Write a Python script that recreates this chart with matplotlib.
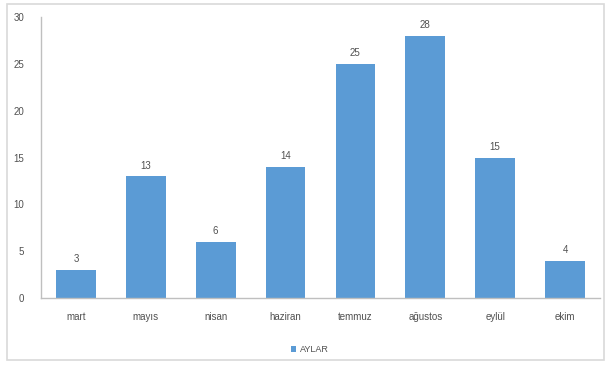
import matplotlib.pyplot as plt
from matplotlib.patches import Rectangle

months = ["mart", "mayıs", "nisan", "haziran", "temmuz", "ağustos", "eylül", "ekim"]
counts = [3, 13, 6, 14, 25, 28, 15, 4]
series_name = "AYLAR"
y_ticks = [0, 5, 10, 15, 20, 25, 30]

bar_color = "#5B9BD5"
text_color = "#505050"
axis_color = "#BFBFBF"

plt.rcParams["font.family"] = ["Liberation Sans", "DejaVu Sans"]

fig = plt.figure(figsize=(6.06, 3.67), dpi=100)
ax = fig.add_axes([41 / 606, 1 - 298 / 367, (600 - 41) / 606, (298 - 17) / 367])

x = range(len(months))
bars = ax.bar(x, counts, width=0.57, color=bar_color, label=series_name, zorder=2)
for rect, v in zip(bars, counts):
    ax.text(rect.get_x() + rect.get_width() / 2, v + 0.6, str(v),
            ha="center", va="bottom", fontsize=7, color=text_color)

ax.set_xlim(-0.5, len(months) - 0.5)
ax.set_ylim(0, 30)
ax.set_yticks(y_ticks)
ax.set_xticks(list(x))
ax.set_xticklabels(months)
ax.tick_params(axis="both", labelsize=7, colors=text_color, length=0)
ax.tick_params(axis="x", pad=10)
ax.tick_params(axis="y", pad=12)
for side in ("top", "right"):
    ax.spines[side].set_visible(False)
for side in ("left", "bottom"):
    ax.spines[side].set_color(axis_color)
    ax.spines[side].set_linewidth(1.0)

leg = fig.legend(loc="center", bbox_to_anchor=(310 / 606, 1 - 350 / 367), frameon=False,
                 fontsize=6.5, handlelength=0.6, handleheight=0.6, handletextpad=0.4)
for t in leg.get_texts():
    t.set_color(text_color)

# thin frame around the whole chart area
fig.patches.append(Rectangle((7 / 606, 1 - 360 / 367), 597 / 606, 356 / 367,
                             transform=fig.transFigure, fill=False,
                             edgecolor="#D9D9D9", linewidth=1.2))

fig.savefig("out.png", dpi=100)
